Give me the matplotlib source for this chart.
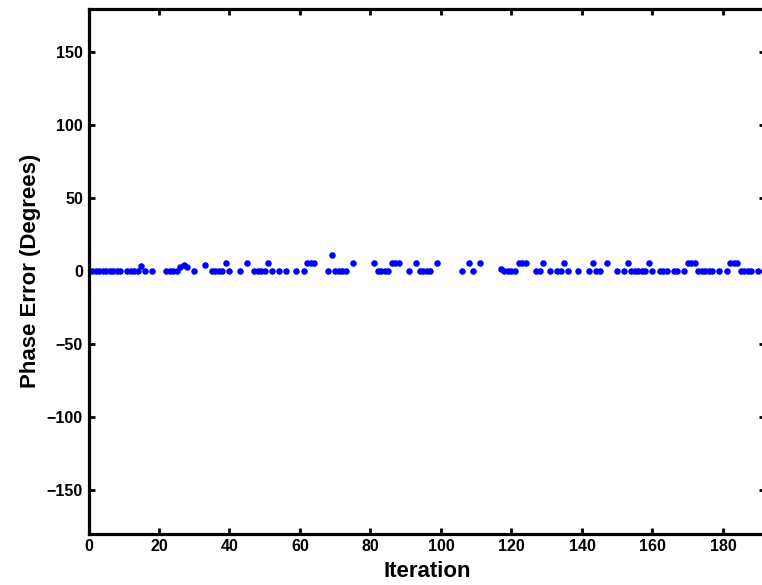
import matplotlib
matplotlib.use("Agg")
import matplotlib.pyplot as plt

# Data
iteration = [1, 2, 3, 4, 5, 6, 7, 8, 9, 11, 12, 13, 14, 15, 16, 18,
             22, 23, 24, 25, 26, 27, 28, 30, 33, 35, 36, 37, 38, 39, 40,
             43, 45, 47, 48, 49, 50, 51, 52, 54, 56, 59, 61, 62, 63, 64,
             68, 69, 70, 71, 72, 73, 75, 81, 82, 83, 84, 85, 86, 87, 88,
             91, 93, 94, 95, 96, 97, 99, 106, 108, 109, 111,
             117, 118, 119, 120, 121, 122, 123, 124, 127, 128, 129, 131,
             133, 134, 135, 136, 139, 142, 143, 144, 145, 147, 150, 152,
             153, 154, 155, 156, 157, 158, 159, 160, 162, 163, 164, 166,
             167, 169, 170, 171, 172, 173, 174, 175, 176, 177, 179, 181,
             182, 183, 184, 185, 186, 187, 188, 190]
phase_error = [0, 0, 0, 0, 0, 0, 0, 0, 0, 0, 0, 0, 0, 3.5, 0, 0,
               0, 0, 0, 0, 2.8, 4.2, 3.0, 0, 4.5, 0, 0, 0, 0, 5.6, 0,
               0, 5.6, 0, 0, 0, 0, 5.6, 0, 0, 0, 0, 0, 5.6, 5.6, 5.6,
               0, 11.25, 0, 0, 0, 0, 5.6, 5.6, 0, 0, 0, 0, 5.6, 5.6, 5.6,
               0, 5.6, 0, 0, 0, 0, 5.6, 0, 5.6, 0, 5.6,
               1.7, 0, 0, 0, 0, 5.6, 5.6, 5.6, 0, 0, 5.6, 0,
               0, 0, 5.6, 0, 0, 0, 5.6, 0, 0, 5.6, 0, 0,
               5.6, 0, 0, 0, 0, 0, 5.6, 0, 0, 0, 0, 0,
               0, 0, 5.6, 5.6, 5.6, 0, 0, 0, 0, 0, 0, 0,
               5.6, 5.6, 5.6, 0, 0, 0, 0, 0]

x_ticks = [0, 20, 40, 60, 80, 100, 120, 140, 160, 180]
y_ticks = [-150, -100, -50, 0, 50, 100, 150]

plt.rcParams['font.family'] = ['Liberation Sans', 'DejaVu Sans']
plt.rcParams['font.weight'] = 'bold'

fig = plt.figure(figsize=(7.62, 5.85), dpi=100)
ax = fig.add_axes([88.5 / 762, 51.2 / 585, 676.8 / 762, 525.2 / 585])

ax.plot(iteration, phase_error, linestyle='none', marker='o',
        markersize=4.7, markerfacecolor=(0, 0, 1), markeredgecolor='none')

ax.set_xlim(0, 192)
ax.set_ylim(-180, 180)
ax.set_xticks(x_ticks)
ax.set_yticks(y_ticks)
ax.tick_params(direction='in', length=4.5, width=2.0, top=True, right=True,
               labelsize=11.5, pad=4)
for lab in ax.get_xticklabels() + ax.get_yticklabels():
    lab.set_fontweight('bold')
for sp in ax.spines.values():
    sp.set_linewidth(2.3)

ax.set_xlabel('Iteration', fontsize=16, fontweight='bold', labelpad=5)
ax.set_ylabel('Phase Error (Degrees)', fontsize=16, fontweight='bold', labelpad=4)

fig.savefig('out.png', dpi=100)
